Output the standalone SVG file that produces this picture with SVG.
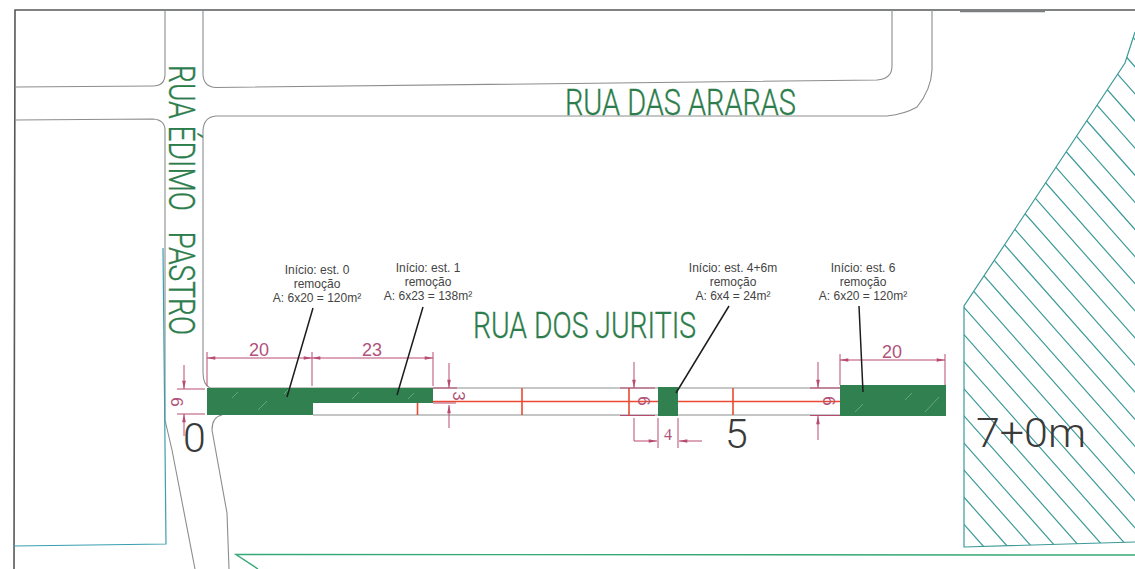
<svg xmlns="http://www.w3.org/2000/svg" width="1135" height="569" viewBox="0 0 1135 569">
<style>
.road{fill:none;stroke:#8b8d8e;stroke-width:1.1}
.frame{fill:none;stroke:#55585a;stroke-width:1.6}
.area{fill:#31804f}
.streak{stroke:#7fb596;stroke-width:.7;fill:none}
.street{font-family:Roboto,"Liberation Sans",sans-serif;font-weight:300;fill:#2c7d4b;stroke:#2c7d4b;stroke-width:.35;white-space:pre}
.axis{stroke:#ea4a30;stroke-width:1.6;fill:none}
.dim{stroke:#b84a72;stroke-width:1;fill:none}
.dimt{font-family:"Liberation Sans",sans-serif;font-size:18px;fill:#b0527a;text-anchor:middle}
.dimv{font-size:17px}
.note{font-family:"Liberation Sans",sans-serif;font-size:12px;fill:#444;text-anchor:middle}
.leader{stroke:#1d1d1d;stroke-width:1.5;fill:none}
.sta{font-family:Roboto,"Liberation Sans",sans-serif;font-weight:300;font-size:41px;fill:#3a3a3a}
.teal{fill:none;stroke:#3c9a98;stroke-width:1.2}
.cyan{fill:none;stroke:#3a9fb0;stroke-width:1.2}
.lime{fill:none;stroke:#35a877;stroke-width:1.4}
</style>
<defs>
<marker id="arw" viewBox="0 0 10 6" refX="10" refY="3" markerWidth="10" markerHeight="5" markerUnits="userSpaceOnUse" orient="auto-start-reverse"><path d="M0 .8L10 3L0 5.2z" fill="#b84a72"/></marker>
<clipPath id="lot"><path d="M964 306L1125 63L1135 32V542L964 547z"/></clipPath>
</defs>
<rect width="1135" height="569" fill="#fff"/>

<g id="frame">
<path class="frame" d="M14 569L15 10H1135"/>
<path d="M960 11.500H1045" fill="none" stroke="#7a7c7d" stroke-width="1.400"/>
</g>

<g id="roads">
<path class="road" d="M165 10V74Q165 86 153 86L15 87"/>
<path class="road" d="M15 120L153 119Q165 120 165 130V420L172 450L195 569"/>
<path class="road" d="M203 10V75Q204 87 216 87.500L877 80Q892 79 892 66V10"/>
<path class="road" d="M932 10V70Q931 90 917 107Q905 114 887 116H216Q204 117 203 130V372Q203 385 210 388H946"/>
<path class="road" d="M313 415H840"/>
<path class="road" d="M222 415Q212 417 212 430L227 513L229 569"/>
</g>

<g id="boundaries">
<path class="cyan" d="M163 248L166 544L14 546"/>
<path class="lime" d="M1135 555L236 554.500L258 569"/>
</g>

<g id="hatched-lot">
<path class="teal" d="M1135 32L1125 63L964 306V547L1135 542"/>
<g clip-path="url(#lot)"><path class="teal" d="M984 547l-500-565m524 565l-500-565m524 565l-500-565m524 565l-500-565m524 565l-500-565m524 565l-500-565m524 565l-500-565m524 565l-500-565m524 565l-500-565m524 565l-500-565m524 565l-500-565m524 565l-500-565m524 565l-500-565m524 565l-500-565m524 565l-500-565m524 565l-500-565m524 565l-500-565m524 565l-500-565m524 565l-500-565m524 565l-500-565m524 565l-500-565m524 565l-500-565m524 565l-500-565m524 565l-500-565m524 565l-500-565m524 565l-500-565m524 565l-500-565"/></g>
</g>

<g id="axis">
<path class="axis" d="M433 401.500H840M417.500 403V415M522 388V415M629 388V415M733 388V415"/>
</g>

<g id="removal-areas">
<path class="area" d="M207 388H433V403H313V415H207z"/>
<rect class="area" x="658" y="387" width="20" height="29"/>
<rect class="area" x="840" y="385" width="106" height="31"/>
<path class="streak" d="M232 398l6-6M258 410l9-9M284 394l5-5M352 399l7-7M408 399l6-6M855 412l8-8M905 400l7-7M925 412l14-15"/>
</g>

<g id="dimensions">
<path class="dim" d="M207 352V386M312 352V386M433 352V386M840 354V385M945 354V385"/>
<path class="dim" marker-start="url(#arw)" marker-end="url(#arw)" d="M207 358H312"/>
<path class="dim" marker-start="url(#arw)" marker-end="url(#arw)" d="M312 358H433"/>
<path class="dim" marker-start="url(#arw)" marker-end="url(#arw)" d="M840 360H945"/>
<text class="dimt" x="259" y="356">20</text>
<text class="dimt" x="372" y="356">23</text>
<text class="dimt" x="892" y="358">20</text>

<path class="dim" d="M177 389H205M177 414H205"/>
<path class="dim" marker-end="url(#arw)" d="M184 365V389"/>
<path class="dim" marker-end="url(#arw)" d="M184 436V414"/>
<text class="dimt dimv" transform="translate(171 402) rotate(90)">6</text>

<path class="dim" d="M433 388H457M433 403H456"/>
<path class="dim" marker-end="url(#arw)" d="M449 363V388"/>
<path class="dim" marker-end="url(#arw)" d="M449 428V405"/>
<text class="dimt dimv" transform="translate(453 396) rotate(90)">3</text>

<path class="dim" d="M620 388H655M620 415.500H655"/>
<path class="dim" marker-end="url(#arw)" d="M634 362V388"/>
<path class="dim" marker-end="url(#arw)" d="M634 418V441H657"/>
<text class="dimt dimv" transform="translate(638 401) rotate(90)">6</text>

<path class="dim" d="M658 418V448M678 418V448"/>
<path class="dim" marker-end="url(#arw)" d="M702 441H679"/>
<text x="668" y="440" style="font-family:'Liberation Serif',serif;font-size:16px;fill:#b0527a;text-anchor:middle">4</text>

<path class="dim" d="M810 388H840M810 415.500H840"/>
<path class="dim" marker-end="url(#arw)" d="M818 362V388"/>
<path class="dim" marker-end="url(#arw)" d="M818 440V416"/>
<text class="dimt dimv" transform="translate(823 401) rotate(90)">6</text>
</g>

<g id="leaders">
<path class="leader" d="M313 308L287 397M423 307L397 395M729 306L676 393M859 306L863 392"/>
</g>

<g id="notes">
<text class="note" x="317" y="274">Início: est. 0</text>
<text class="note" x="317" y="288">remoção</text>
<text class="note" x="317" y="302">A: 6x20 = 120m²</text>
<text class="note" x="428" y="272">Início: est. 1</text>
<text class="note" x="428" y="286">remoção</text>
<text class="note" x="428" y="300">A: 6x23 = 138m²</text>
<text class="note" x="733" y="272">Início: est. 4+6m</text>
<text class="note" x="733" y="286">remoção</text>
<text class="note" x="733" y="300">A: 6x4 = 24m²</text>
<text class="note" x="863" y="272">Início: est. 6</text>
<text class="note" x="863" y="286">remoção</text>
<text class="note" x="863" y="300">A: 6x20 = 120m²</text>
</g>

<g id="street-names">
<text class="street" x="565" y="115" font-size="36" textLength="231" lengthAdjust="spacingAndGlyphs">RUA DAS ARARAS</text>
<text class="street" x="473" y="338" font-size="36" textLength="223" lengthAdjust="spacingAndGlyphs">RUA DOS JURITIS</text>
<text class="street" font-size="36" textLength="270" lengthAdjust="spacingAndGlyphs" transform="translate(169 65) rotate(90)">RUA ÉDIMO   PASTRO</text>
</g>

<g id="stations">
<text class="sta" x="183" y="452">0</text>
<text class="sta" x="725" y="448">5</text>
<text class="sta" x="976" y="447" textLength="110" lengthAdjust="spacingAndGlyphs">7+0m</text>
</g>
</svg>
